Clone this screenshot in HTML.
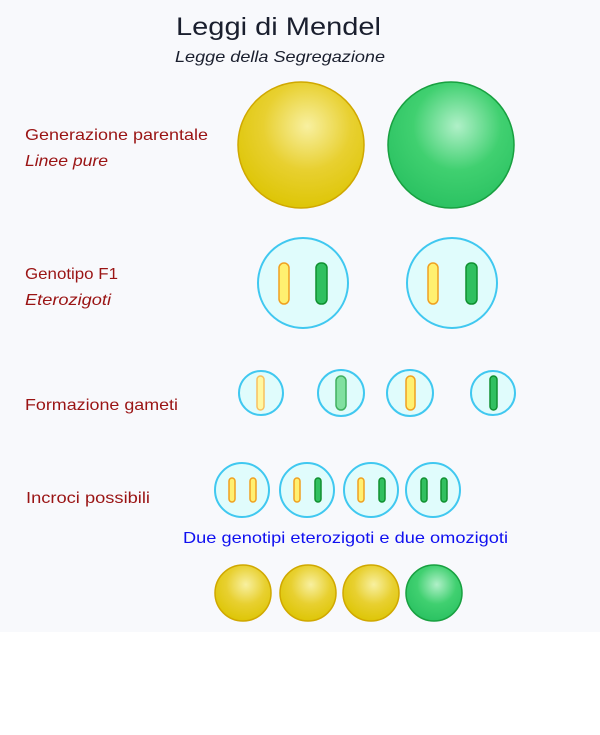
<!DOCTYPE html>
<html><head><meta charset="utf-8"><style>
html,body{margin:0;padding:0;background:#fff;}
svg{display:block;}
text{font-family:"Liberation Sans",sans-serif;}
</style></head><body>
<svg width="600" height="735" viewBox="0 0 600 735" xmlns="http://www.w3.org/2000/svg">
<defs>
<radialGradient id="gy" cx="0.55" cy="0.35" r="0.7"><stop offset="0" stop-color="#f8f0a0"/><stop offset="0.5" stop-color="#e8d030"/><stop offset="1" stop-color="#dcc400"/></radialGradient>
<radialGradient id="gg" cx="0.55" cy="0.35" r="0.7"><stop offset="0" stop-color="#b0f0c8"/><stop offset="0.5" stop-color="#40d070"/><stop offset="1" stop-color="#28c060"/></radialGradient>
</defs>
<rect x="0" y="0" width="600" height="632" fill="#f8f9fc"/>
<text x="176" y="35" font-size="25" textLength="205" lengthAdjust="spacingAndGlyphs" fill="#1a1f2e">Leggi di Mendel</text>
<text x="175" y="62" font-size="16" font-style="italic" textLength="210" lengthAdjust="spacingAndGlyphs" fill="#1a1f2e">Legge della Segregazione</text>
<g fill="#9a1414" font-size="16">
<text x="25" y="140" textLength="183" lengthAdjust="spacingAndGlyphs">Generazione parentale</text>
<text x="25" y="166" font-style="italic" textLength="83" lengthAdjust="spacingAndGlyphs">Linee pure</text>
<text x="25" y="279" textLength="93" lengthAdjust="spacingAndGlyphs">Genotipo F1</text>
<text x="25" y="305" font-style="italic" textLength="86" lengthAdjust="spacingAndGlyphs">Eterozigoti</text>
<text x="25" y="410" textLength="153" lengthAdjust="spacingAndGlyphs">Formazione gameti</text>
<text x="26" y="503" textLength="124" lengthAdjust="spacingAndGlyphs">Incroci possibili</text>
</g>
<circle cx="301" cy="145" r="63" fill="url(#gy)" stroke="#d0a800" stroke-width="1.5"/>
<circle cx="451" cy="145" r="63" fill="url(#gg)" stroke="#18a040" stroke-width="1.5"/>
<g fill="#e0fcfc" stroke="#40c8f0" stroke-width="2">
<circle cx="303" cy="283" r="45"/><circle cx="452" cy="283" r="45"/>
<circle cx="261" cy="393" r="22"/><circle cx="341" cy="393" r="23"/><circle cx="410" cy="393" r="23"/><circle cx="493" cy="393" r="22"/>
<circle cx="242" cy="490" r="27"/><circle cx="307" cy="490" r="27"/><circle cx="371" cy="490" r="27"/><circle cx="433" cy="490" r="27"/>
</g>
<g stroke-width="1.5">
<rect x="279" y="263" width="10" height="41" rx="5" fill="#fff070" stroke="#f0a020"/>
<rect x="316" y="263" width="11" height="41" rx="5" fill="#30c060" stroke="#109030"/>
<rect x="428" y="263" width="10" height="41" rx="5" fill="#fff070" stroke="#f0a020"/>
<rect x="466" y="263" width="11" height="41" rx="5" fill="#30c060" stroke="#109030"/>
<rect x="257" y="376" width="7" height="34" rx="3.5" fill="#fff8a0" stroke="#f8c060"/>
<rect x="336" y="376" width="10" height="34" rx="5" fill="#80e0a0" stroke="#40b060"/>
<rect x="406" y="376" width="9" height="34" rx="4.5" fill="#fff070" stroke="#f0a020"/>
<rect x="490" y="376" width="7" height="34" rx="3.5" fill="#30c060" stroke="#109030"/>
<rect x="229" y="478" width="6" height="24" rx="3" fill="#fff070" stroke="#f0a020"/>
<rect x="250" y="478" width="6" height="24" rx="3" fill="#fff070" stroke="#f0a020"/>
<rect x="294" y="478" width="6" height="24" rx="3" fill="#fff070" stroke="#f0a020"/>
<rect x="315" y="478" width="6" height="24" rx="3" fill="#30c060" stroke="#109030"/>
<rect x="358" y="478" width="6" height="24" rx="3" fill="#fff070" stroke="#f0a020"/>
<rect x="379" y="478" width="6" height="24" rx="3" fill="#30c060" stroke="#109030"/>
<rect x="421" y="478" width="6" height="24" rx="3" fill="#30c060" stroke="#109030"/>
<rect x="441" y="478" width="6" height="24" rx="3" fill="#30c060" stroke="#109030"/>
</g>
<text x="183" y="543" font-size="16" textLength="325" lengthAdjust="spacingAndGlyphs" fill="#1010f0">Due genotipi eterozigoti e due omozigoti</text>
<circle cx="243" cy="593" r="28" fill="url(#gy)" stroke="#d0a800" stroke-width="1.5"/>
<circle cx="308" cy="593" r="28" fill="url(#gy)" stroke="#d0a800" stroke-width="1.5"/>
<circle cx="371" cy="593" r="28" fill="url(#gy)" stroke="#d0a800" stroke-width="1.5"/>
<circle cx="434" cy="593" r="28" fill="url(#gg)" stroke="#18a040" stroke-width="1.5"/>
</svg>
</body></html>
